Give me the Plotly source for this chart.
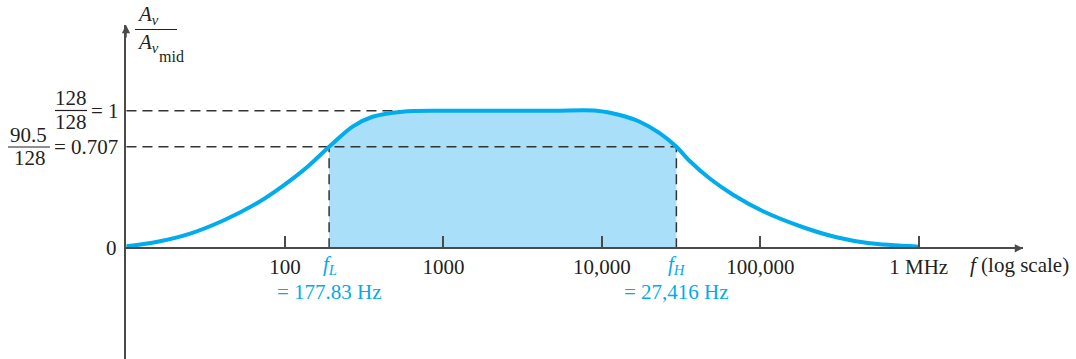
import plotly.graph_objects as go

# ---------------- data ----------------
freq_hz = [10, 15.7, 25.5, 41.5, 67.3, 97.7, 139, 190, 267, 357, 552, 946, 2000, 5000,
           9270, 12960, 17330, 23170, 29550, 35860, 47970, 67300, 104100,
           186200, 302700, 491000, 1000000]
gain_ratio = [0.015, 0.048, 0.109, 0.206, 0.331, 0.456, 0.593, 0.738, 0.884, 0.956,
              0.993, 1.0, 1.0, 1.0, 1.0, 0.969, 0.920, 0.837, 0.738, 0.634, 0.507,
              0.389, 0.269, 0.153, 0.080, 0.036, 0.012]

f_L_drawn = 190        # where the f_L marker sits in the picture
f_H_drawn = 29550      # where the f_H marker sits in the picture
mid_level = 1.0
half_power_drawn = 0.738
x_start = 10

tick_vals = [100, 1000, 10000, 100000, 1000000]
tick_text = ["100", "1000", "10,000", "100,000", "1 MHz"]

f_L_label = "= 177.83 Hz"
f_H_label = "= 27,416 Hz"

# ---------------- styling ----------------
BLUE = "rgb(0,172,236)"
FILL = "rgb(170,223,249)"
TXT = "#231f20"
AX = "#4a4a4a"
DASH = "#333333"
FONT = "Liberation Serif"
FS = 21

W, H = 1076, 359
L, R, T, B = 126, 53, 25, 0
PW, PH = W - L - R, H - T - B


def px(x):
    return (x - L) / PW


def py(y):
    return (H - y) / PH


fig = go.Figure()

# shaded band between f_L and f_H
band = [(f, g) for f, g in zip(freq_hz, gain_ratio) if f_L_drawn <= f <= f_H_drawn]
fig.add_trace(go.Scatter(
    x=[b[0] for b in band], y=[b[1] for b in band],
    mode="lines", line=dict(color=FILL, width=0, shape="spline", smoothing=0.8),
    fill="tozeroy", fillcolor=FILL, hoverinfo="skip", showlegend=False))

dash_line = dict(color=DASH, width=1.5, dash="10px,6px")
# horizontal dashed guides
fig.add_trace(go.Scatter(x=[x_start, 946], y=[mid_level, mid_level], mode="lines",
                         line=dash_line, hoverinfo="skip", showlegend=False))
fig.add_trace(go.Scatter(x=[x_start, f_H_drawn], y=[half_power_drawn, half_power_drawn],
                         mode="lines", line=dash_line, hoverinfo="skip", showlegend=False))
# vertical dashed guides
for f in (f_L_drawn, f_H_drawn):
    fig.add_trace(go.Scatter(x=[f, f], y=[0, half_power_drawn], mode="lines",
                             line=dash_line, hoverinfo="skip", showlegend=False))

# response curve
fig.add_trace(go.Scatter(x=freq_hz, y=gain_ratio, mode="lines",
                         line=dict(color=BLUE, width=4, shape="spline", smoothing=0.8),
                         hoverinfo="skip", showlegend=False))

y_lo = -(H - 248.3) / 137.6
y_hi = (248.3 - T) / 137.6
zero_pos = (0 - y_lo) / (y_hi - y_lo)

fig.update_layout(
    width=W, height=H,
    margin=dict(l=L, r=R, t=T, b=B),
    paper_bgcolor="white", plot_bgcolor="white",
    font=dict(family=FONT, size=FS, color=TXT),
    xaxis=dict(type="log", range=[0.997, 6.658], anchor="free", position=zero_pos,
               showline=True, linecolor=AX, linewidth=1.5,
               ticks="inside", ticklen=12, tickwidth=1.5, tickcolor=AX,
               tickvals=tick_vals, ticktext=tick_text, ticklabelstandoff=0,
               tickfont=dict(family=FONT, size=FS, color=TXT),
               showgrid=False, zeroline=False),
    yaxis=dict(range=[y_lo, y_hi], showline=True, linecolor=AX, linewidth=1.5,
               showticklabels=False, ticks="", showgrid=False, zeroline=False),
)

ann = []
# axis arrowheads
ann.append(dict(xref="paper", yref="paper", x=1, y=zero_pos, ax=-14, ay=0,
                showarrow=True, arrowhead=2, arrowsize=1.1, arrowwidth=1.5,
                arrowcolor=AX, text=""))
ann.append(dict(xref="paper", yref="paper", x=0, y=1, ax=0, ay=14,
                showarrow=True, arrowhead=2, arrowsize=1.1, arrowwidth=1.5,
                arrowcolor=AX, text=""))


def txt(text, x, y, xanchor="center", size=FS, color=TXT):
    ann.append(dict(xref="paper", yref="paper", x=px(x), y=py(y), text=text,
                    showarrow=False, xanchor=xanchor, yanchor="middle",
                    font=dict(family=FONT, size=size, color=color)))


# y-axis title fraction
txt("<i>A</i><sub><i>v</i></sub>", 135, 15, xanchor="left")
txt("<i>A</i><sub><i>v</i></sub>", 135, 43, xanchor="left")
txt("mid", 157, 57, xanchor="left", size=16)

# y level labels
txt("128", 71, 98)
txt("128", 71, 122)
txt("= 1", 89, 111, xanchor="left")
txt("90.5", 28, 135)
txt("128", 30, 158)
txt("= 0.707", 52, 147, xanchor="left")
txt("0", 111, 248)

# cutoff frequency labels
txt("<i>f</i><sub><i>L</i></sub>", 330, 265, color=BLUE)
txt(f_L_label, 329, 292, color=BLUE)
txt("<i>f</i><sub><i>H</i></sub>", 677, 265, color=BLUE)
txt(f_H_label, 676, 292, color=BLUE)

# x-axis caption
txt("<i>f</i> (log scale)", 968, 265, xanchor="left")

fig.update_layout(annotations=ann)

# fraction bars
shapes = []
for x0, x1, y in [(135, 177, 29.5), (55, 87, 110.5), (8, 50, 147)]:
    shapes.append(dict(type="line", xref="paper", yref="paper",
                       x0=px(x0), x1=px(x1), y0=py(y), y1=py(y),
                       line=dict(color=TXT, width=1.2)))
fig.update_layout(shapes=shapes)

fig.write_html("out.html",
               config={"displayModeBar": False},
               post_script="document.body.style.margin='0px';")
